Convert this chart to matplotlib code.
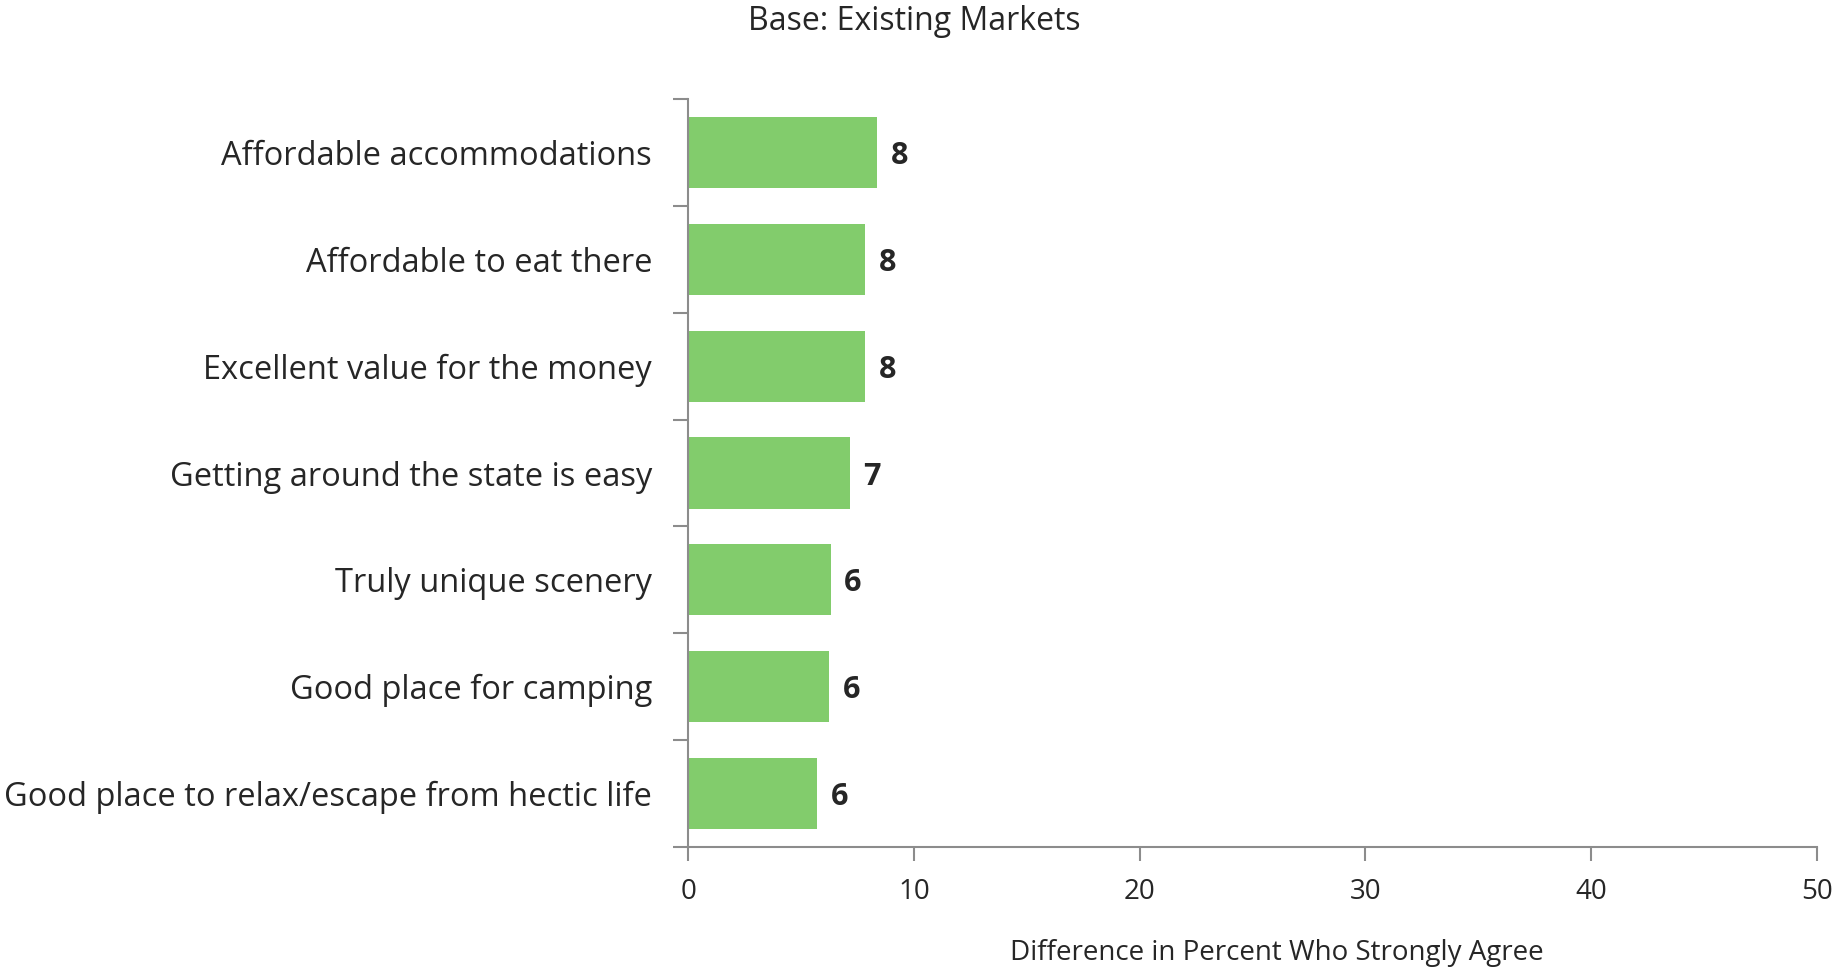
import matplotlib.pyplot as plt
import numpy as np

# --- data ---
categories = [
    "Affordable accommodations",
    "Affordable to eat there",
    "Excellent value for the money",
    "Getting around the state is easy",
    "Truly unique scenery",
    "Good place for camping",
    "Good place to relax/escape from hectic life",
]
values = [8.37, 7.83, 7.83, 7.15, 6.3, 6.25, 5.72]
x_ticks = [0, 10, 20, 30, 40, 50]

plt.rcParams['font.family'] = ['Open Sans', 'DejaVu Sans']
text_color = '#262626'
axis_color = '#8c8c8c'
bar_color = '#82cc6c'

fig = plt.figure(figsize=(18.37, 9.69), dpi=100)
ax = fig.add_axes([0.3747, 0.1259, 0.6143, 0.7719])

n = len(categories)
y = np.arange(n)[::-1]  # first category on top
ax.barh(y, values, height=0.665, color=bar_color, edgecolor='none')

# value labels
for yi, v in zip(y, values):
    ax.text(v + 0.6, yi, f'{v:.0f}', va='center_baseline', ha='left',
            fontsize=22, fontweight='bold', color=text_color)

ax.set_xlim(0, 50)
ax.set_ylim(-0.5, n - 0.5)

ax.set_xticks(x_ticks)
ax.set_xticklabels([str(t) for t in x_ticks], fontsize=20, color=text_color)
ax.tick_params(axis='x', direction='out', length=10, width=1.5,
               color=axis_color, pad=12)

# labels at centres, tick marks at category boundaries
ax.set_yticks(y)
ax.set_yticklabels(categories, fontsize=23.5, color=text_color)
ax.tick_params(axis='y', which='major', length=0, pad=26)
ax.set_yticks(np.arange(-0.5, n, 1.0), minor=True)
ax.tick_params(axis='y', which='minor', direction='out', length=11,
               width=1.5, color=axis_color)

for spine in ['top', 'right']:
    ax.spines[spine].set_visible(False)
for spine in ['left', 'bottom']:
    ax.spines[spine].set_color(axis_color)
    ax.spines[spine].set_linewidth(1.5)

fig.text(0.4975, 0.978, "Base: Existing Markets", ha='center', va='center',
         fontsize=23, color=text_color)
fig.text(0.695, 0.016, "Difference in Percent Who Strongly Agree",
         ha='center', va='center', fontsize=20, color=text_color)

plt.savefig('out.png', dpi=100)
